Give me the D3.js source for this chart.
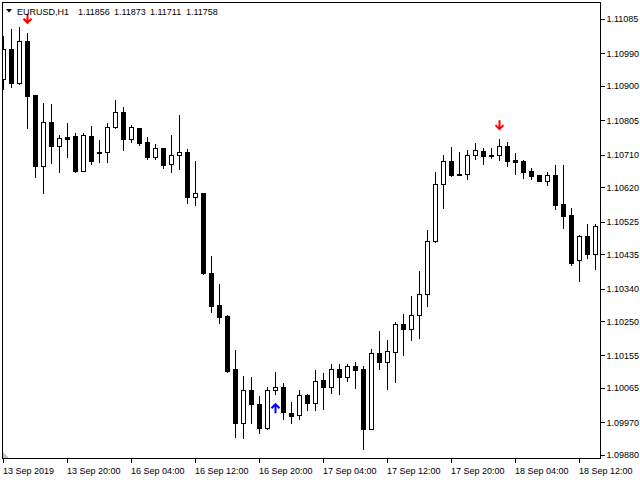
<!DOCTYPE html>
<html>
<head>
<meta charset="utf-8">
<script src="https://cdn.jsdelivr.net/npm/d3@7"></script>
<style>
  html, body { margin: 0; padding: 0; background: #fff; }
  svg { display: block; }
  text { font-family: "Liberation Sans", Arial, sans-serif; font-size: 9px; fill: #000; }
</style>
</head>
<body>
<svg id="chart" width="640" height="480"></svg>
<script>
// ---- data (EURUSD H1, first bar = 13 Sep 2019 12:00) ----
const symbolLabel = "EURUSD,H1";
const headerQuote = ["1.11856", "1.11873", "1.11711", "1.11758"];

const opens = [
  1.10919, 1.11001, 1.10909, 1.11023, 1.10875, 1.10680, 1.10800, 1.10735, 1.10760, 1.10762,
  1.10666, 1.10762, 1.10717, 1.10718, 1.10786, 1.10827, 1.10753, 1.10784, 1.10744, 1.10703,
  1.10728, 1.10683, 1.10708, 1.10717, 1.10592, 1.10603, 1.10382, 1.10294, 1.10264, 1.10117,
  1.09968, 1.10059, 1.10020, 1.09954, 1.10059, 1.10068, 1.09996, 1.09991, 1.10046, 1.10025,
  1.10086, 1.10067, 1.10117, 1.10096, 1.10125, 1.10117, 1.09953, 1.10161, 1.10138, 1.10166,
  1.10242, 1.10229, 1.10266, 1.10324, 1.10471, 1.10628, 1.10692, 1.10656, 1.10656, 1.10708,
  1.10719, 1.10708, 1.10708, 1.10733, 1.10694, 1.10692, 1.10665, 1.10654, 1.10638, 1.10653,
  1.10573, 1.10543, 1.10418, 1.10485, 1.10435
];
const highs = [
  1.11038, 1.11057, 1.11062, 1.11047, 1.10875, 1.10852, 1.10850, 1.10764, 1.10797, 1.10769,
  1.10769, 1.10789, 1.10751, 1.10797, 1.10861, 1.10841, 1.10791, 1.10784, 1.10760, 1.10740,
  1.10728, 1.10764, 1.10820, 1.10726, 1.10693, 1.10603, 1.10430, 1.10352, 1.10267, 1.10170,
  1.10098, 1.10096, 1.10043, 1.10068, 1.10109, 1.10079, 1.10026, 1.10060, 1.10048, 1.10115,
  1.10106, 1.10132, 1.10132, 1.10132, 1.10137, 1.10125, 1.10172, 1.10223, 1.10197, 1.10247,
  1.10270, 1.10319, 1.10389, 1.10502, 1.10662, 1.10709, 1.10731, 1.10717, 1.10722, 1.10742,
  1.10728, 1.10728, 1.10753, 1.10745, 1.10715, 1.10694, 1.10672, 1.10654, 1.10661, 1.10682,
  1.10682, 1.10563, 1.10488, 1.10518, 1.10518
];
const lows = [
  1.10892, 1.10898, 1.10905, 1.10785, 1.10649, 1.10605, 1.10688, 1.10663, 1.10703, 1.10663,
  1.10664, 1.10683, 1.10691, 1.10691, 1.10784, 1.10723, 1.10746, 1.10737, 1.10697, 1.10697,
  1.10674, 1.10663, 1.10670, 1.10577, 1.10572, 1.10380, 1.10276, 1.10244, 1.10110, 1.09931,
  1.09928, 1.09969, 1.09940, 1.09951, 1.10048, 1.09980, 1.09968, 1.09980, 1.10004, 1.10004,
  1.10007, 1.10052, 1.10049, 1.10085, 1.10066, 1.09897, 1.09952, 1.10119, 1.10063, 1.10083,
  1.10157, 1.10198, 1.10204, 1.10293, 1.10469, 1.10564, 1.10652, 1.10655, 1.10644, 1.10699,
  1.10685, 1.10702, 1.10696, 1.10680, 1.10657, 1.10646, 1.10644, 1.10638, 1.10627, 1.10561,
  1.10508, 1.10406, 1.10362, 1.10425, 1.10395
];
const closes = [
  1.11002, 1.10909, 1.11023, 1.10873, 1.10680, 1.10800, 1.10735, 1.10755, 1.10754, 1.10665,
  1.10764, 1.10693, 1.10715, 1.10786, 1.10827, 1.10753, 1.10786, 1.10743, 1.10703, 1.10728,
  1.10682, 1.10708, 1.10717, 1.10592, 1.10603, 1.10382, 1.10293, 1.10261, 1.10113, 1.09968,
  1.10059, 1.10020, 1.09954, 1.10059, 1.10067, 1.10000, 1.09989, 1.10045, 1.10025, 1.10084,
  1.10067, 1.10117, 1.10096, 1.10125, 1.10116, 1.09953, 1.10161, 1.10138, 1.10167, 1.10242,
  1.10229, 1.10267, 1.10324, 1.10471, 1.10628, 1.10692, 1.10655, 1.10655, 1.10708, 1.10722,
  1.10707, 1.10707, 1.10733, 1.10693, 1.10691, 1.10663, 1.10652, 1.10638, 1.10653, 1.10572,
  1.10541, 1.10411, 1.10485, 1.10435, 1.10512
];

const sellSignals = [3, 62];   // bar indices with red down arrows
const buySignals = [34];       // bar indices with blue up arrows

const timeTickIndex = [0, 8, 16, 24, 32, 40, 48, 56, 64, 72];
const timeTickLabels = ["13 Sep 2019", "13 Sep 20:00", "16 Sep 04:00", "16 Sep 12:00", "16 Sep 20:00",
  "17 Sep 04:00", "17 Sep 12:00", "17 Sep 20:00", "18 Sep 04:00", "18 Sep 12:00"];

const priceTickLabels = ["1.11085", "1.10990", "1.10900", "1.10805", "1.10710", "1.10620", "1.10525",
  "1.10435", "1.10340", "1.10250", "1.10155", "1.10065", "1.09970", "1.09880"];

// ---- layout ----
const frame = { left: 2, right: 600, top: 2, bottom: 458 };
const svg = d3.select("#chart");

const bars = opens.map((o, i) => ({ i, o, h: highs[i], l: lows[i], c: closes[i] }));

const x = d3.scaleLinear().domain([0, 1]).range([3, 11]); // 8 px per bar, pixel column of bar centre
const y = d3.scaleLinear()
  .domain([+priceTickLabels[priceTickLabels.length - 1], +priceTickLabels[0]])
  .range([455, 19]);

// clip
svg.append("defs").append("clipPath").attr("id", "plotclip")
  .append("rect")
  .attr("x", frame.left + 1).attr("y", frame.top + 1)
  .attr("width", frame.right - frame.left - 1).attr("height", frame.bottom - frame.top - 1);

const plot = svg.append("g").attr("clip-path", "url(#plotclip)");

// wicks
plot.selectAll("line.wick").data(bars).join("line")
  .attr("class", "wick")
  .attr("x1", d => Math.round(x(d.i)) + 0.5)
  .attr("x2", d => Math.round(x(d.i)) + 0.5)
  .attr("y1", d => Math.round(y(d.h)))
  .attr("y2", d => Math.round(y(d.l)) + 1)
  .attr("stroke", "#000").attr("stroke-width", 1).attr("shape-rendering", "crispEdges");

// bodies
plot.selectAll("rect.body").data(bars).join("rect")
  .attr("class", "body")
  .each(function (d) {
    const cx = Math.round(x(d.i));
    const top = Math.round(y(Math.max(d.o, d.c)));
    const bot = Math.round(y(Math.min(d.o, d.c)));
    const sel = d3.select(this);
    if (d.c > d.o && bot - top >= 2) {
      sel.attr("x", cx - 1.5).attr("y", top + 0.5)
        .attr("width", 4).attr("height", bot - top)
        .attr("fill", "#fff").attr("stroke", "#000").attr("stroke-width", 1);
    } else {
      sel.attr("x", cx - 2).attr("y", top)
        .attr("width", 5).attr("height", Math.max(1, bot - top + 1))
        .attr("fill", "#000");
    }
  })
  .attr("shape-rendering", "crispEdges");

// signal arrows
function arrowPath(cx, tip, dir) {
  // dir = 1 : pointing down (tip at bottom); -1 : pointing up (tip at top)
  const len = 9;
  const tail = tip - dir * len;
  const wing = tip - dir * 4;
  return `M${cx},${tail} L${cx},${tip} M${cx - 4},${wing} L${cx},${tip} L${cx + 4},${wing}`;
}
plot.selectAll("path.sell").data(sellSignals).join("path")
  .attr("class", "sell")
  .attr("d", i => arrowPath(Math.round(x(i)) + 0.5, y(highs[i]) - 10, 1))
  .attr("fill", "none").attr("stroke", "#ff0000").attr("stroke-width", 2);
plot.selectAll("path.buy").data(buySignals).join("path")
  .attr("class", "buy")
  .attr("d", i => arrowPath(Math.round(x(i)) + 0.5, y(lows[i]) + 10, -1))
  .attr("fill", "none").attr("stroke", "#0000ff").attr("stroke-width", 2);

// grey shift marker
svg.append("path")
  .attr("d", `M${frame.left + 1},${frame.bottom - 6} L${frame.left + 1},${frame.bottom} L${frame.left + 7},${frame.bottom} Z`)
  .attr("fill", "#c0c0c0");

// frame
svg.append("rect")
  .attr("x", frame.left + 0.5).attr("y", frame.top + 0.5)
  .attr("width", frame.right - frame.left).attr("height", frame.bottom - frame.top)
  .attr("fill", "none").attr("stroke", "#000").attr("stroke-width", 1)
  .attr("shape-rendering", "crispEdges");

// price axis (right)
const yAxis = d3.axisRight(y)
  .tickValues(priceTickLabels.map(Number))
  .tickFormat((d, i) => priceTickLabels[i])
  .tickSize(4).tickPadding(2);
const gy = svg.append("g").attr("transform", `translate(${frame.right + 0.5},0)`).call(yAxis);
gy.select(".domain").remove();
gy.selectAll("text").attr("font-family", "Liberation Sans, Arial, sans-serif").attr("font-size", 9).attr("fill", "#000");
gy.selectAll("line").attr("stroke", "#000").attr("shape-rendering", "crispEdges");

// time axis (bottom)
const tg = svg.append("g").attr("class", "xaxis");
tg.selectAll("line").data(timeTickIndex).join("line")
  .attr("x1", i => Math.round(x(i)) + 0.5).attr("x2", i => Math.round(x(i)) + 0.5)
  .attr("y1", frame.bottom).attr("y2", frame.bottom + 5)
  .attr("stroke", "#000").attr("shape-rendering", "crispEdges");
tg.selectAll("text").data(timeTickIndex).join("text")
  .attr("x", i => Math.round(x(i)))
  .attr("y", 474)
  .text((i, k) => timeTickLabels[k]);

// header
const hg = svg.append("g");
hg.append("path").attr("d", "M6,9 L12,9 L9,12.5 Z").attr("fill", "#000");
hg.append("text").attr("x", 17).attr("y", 15).text(symbolLabel);
hg.selectAll("text.q").data(headerQuote).join("text")
  .attr("class", "q")
  .attr("x", (d, i) => 78 + i * 36).attr("y", 15)
  .text(d => d);
</script>
</body>
</html>
